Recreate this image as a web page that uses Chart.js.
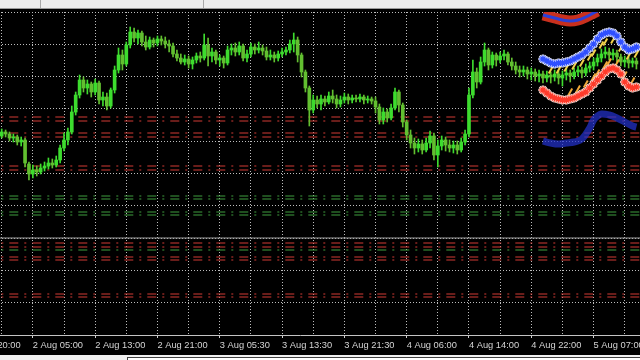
<!DOCTYPE html>
<html>
<head>
<meta charset="utf-8">
<script src="https://cdn.jsdelivr.net/npm/chart.js@4.4.1/dist/chart.umd.min.js"></script>
<style>
  html, body { margin: 0; padding: 0; width: 640px; height: 360px; overflow: hidden; background: #000; }
  body { position: relative; }
  #top { position: absolute; left: 0; top: 0; width: 640px; height: 8px; background: #ececec; border-bottom: 1px solid #9a9a9a; }
  #top .mark { position: absolute; top: 0; width: 1px; height: 8px; background: #a8a8a8; }
  #wrap { position: absolute; left: -40px; top: 10px; width: 680px; height: 345px; background: #000; }
  #bottom { position: absolute; left: 0; top: 355px; width: 640px; height: 5px; background: #f0f0f0; }
  #bottom .box { position: absolute; left: 127px; top: 2px; right: 0; height: 3px; background: #fff; border-top: 1px solid #404040; border-left: 1px solid #404040; }
</style>
</head>
<body>
<div id="top"><div class="mark" style="left:40px"></div><div class="mark" style="left:203px"></div></div>
<div id="wrap"><canvas id="chart" width="680" height="345"></canvas></div>
<div id="bottom"><div class="box"></div></div>
<script>
// time axis labels, one every 16 bars (M30)
var tickLabels = ['1 Aug 20:00', '2 Aug 05:00', '2 Aug 13:00', '2 Aug 21:00', '3 Aug 05:30', '3 Aug 13:30',
  '3 Aug 21:30', '4 Aug 06:00', '4 Aug 14:00', '4 Aug 22:00', '5 Aug 07:00'];

// candles
var opens = [
  1.3079,1.3083,1.3081,1.3077,1.3078,1.3073,1.3075,1.3051,1.3041,1.3045,
  1.3043,1.3047,1.3049,1.3052,1.3050,1.3055,1.3067,1.3075,1.3083,1.3103,
  1.3120,1.3135,1.3127,1.3131,1.3123,1.3132,1.3115,1.3118,1.3109,1.3125,
  1.3145,1.3160,1.3151,1.3170,1.3183,1.3177,1.3182,1.3173,1.3168,1.3175,
  1.3172,1.3176,1.3174,1.3171,1.3169,1.3161,1.3157,1.3153,1.3156,1.3151,
  1.3155,1.3159,1.3157,1.3170,1.3159,1.3163,1.3155,1.3157,1.3152,1.3165,
  1.3167,1.3163,1.3169,1.3157,1.3161,1.3168,1.3165,1.3167,1.3164,1.3158,
  1.3160,1.3157,1.3161,1.3163,1.3165,1.3171,1.3175,1.3160,1.3143,1.3127,
  1.3105,1.3115,1.3111,1.3116,1.3113,1.3119,1.3116,1.3111,1.3115,1.3118,
  1.3115,1.3117,1.3116,1.3118,1.3115,1.3116,1.3114,1.3108,1.3095,1.3103,
  1.3097,1.3107,1.3123,1.3110,1.3093,1.3080,1.3072,1.3067,1.3071,1.3065,
  1.3072,1.3079,1.3060,1.3069,1.3075,1.3070,1.3067,1.3070,1.3065,1.3073,
  1.3081,1.3120,1.3143,1.3133,1.3153,1.3165,1.3150,1.3160,1.3155,1.3159,
  1.3161,1.3153,1.3149,1.3145,1.3143,1.3145,1.3141,1.3143,1.3139,1.3141,
  1.3137,1.3140,1.3138,1.3141,1.3137,1.3140,1.3142,1.3139,1.3143,1.3145,
  1.3142,1.3147,1.3149,1.3153,1.3157,1.3161,1.3163,1.3160,1.3162,1.3158,
  1.3153,1.3155,1.3152,1.3154];
var highs = [
  1.3086,1.3085,1.3083,1.3081,1.3080,1.3078,1.3077,1.3053,1.3050,1.3049,
  1.3051,1.3053,1.3057,1.3056,1.3059,1.3070,1.3082,1.3087,1.3109,1.3123,
  1.3140,1.3138,1.3135,1.3133,1.3136,1.3134,1.3123,1.3122,1.3127,1.3149,
  1.3167,1.3165,1.3173,1.3188,1.3187,1.3185,1.3184,1.3179,1.3178,1.3177,
  1.3179,1.3179,1.3178,1.3175,1.3172,1.3165,1.3161,1.3160,1.3159,1.3158,
  1.3162,1.3163,1.3181,1.3177,1.3167,1.3165,1.3160,1.3159,1.3169,1.3171,
  1.3172,1.3173,1.3171,1.3165,1.3172,1.3171,1.3173,1.3170,1.3168,1.3165,
  1.3163,1.3164,1.3167,1.3168,1.3175,1.3182,1.3178,1.3162,1.3145,1.3129,
  1.3120,1.3119,1.3120,1.3119,1.3123,1.3125,1.3120,1.3119,1.3122,1.3121,
  1.3120,1.3120,1.3121,1.3120,1.3119,1.3118,1.3118,1.3111,1.3107,1.3106,
  1.3111,1.3127,1.3125,1.3112,1.3095,1.3085,1.3077,1.3076,1.3075,1.3077,
  1.3084,1.3082,1.3075,1.3079,1.3078,1.3075,1.3074,1.3074,1.3077,1.3085,
  1.3127,1.3155,1.3147,1.3158,1.3172,1.3167,1.3163,1.3162,1.3163,1.3165,
  1.3163,1.3157,1.3153,1.3149,1.3149,1.3148,1.3147,1.3146,1.3145,1.3144,
  1.3144,1.3143,1.3145,1.3144,1.3144,1.3146,1.3145,1.3147,1.3149,1.3148,
  1.3151,1.3153,1.3157,1.3161,1.3166,1.3168,1.3167,1.3166,1.3165,1.3161,
  1.3159,1.3158,1.3157,1.3157];
var lows = [
  1.3077,1.3078,1.3074,1.3073,1.3070,1.3069,1.3048,1.3035,1.3037,1.3039,
  1.3041,1.3044,1.3046,1.3047,1.3048,1.3052,1.3064,1.3070,1.3081,1.3100,
  1.3117,1.3123,1.3121,1.3118,1.3120,1.3111,1.3109,1.3105,1.3107,1.3122,
  1.3142,1.3145,1.3149,1.3167,1.3173,1.3171,1.3169,1.3165,1.3166,1.3168,
  1.3169,1.3170,1.3167,1.3163,1.3158,1.3154,1.3151,1.3150,1.3147,1.3146,
  1.3152,1.3153,1.3155,1.3149,1.3153,1.3151,1.3149,1.3147,1.3150,1.3160,
  1.3159,1.3160,1.3154,1.3153,1.3158,1.3161,1.3162,1.3160,1.3155,1.3155,
  1.3153,1.3154,1.3158,1.3160,1.3162,1.3163,1.3153,1.3138,1.3123,1.3089,
  1.3102,1.3107,1.3105,1.3109,1.3111,1.3112,1.3107,1.3108,1.3112,1.3111,
  1.3112,1.3113,1.3113,1.3111,1.3112,1.3111,1.3102,1.3091,1.3091,1.3093,
  1.3095,1.3105,1.3103,1.3088,1.3075,1.3067,1.3061,1.3063,1.3061,1.3063,
  1.3067,1.3055,1.3048,1.3065,1.3064,1.3063,1.3062,1.3061,1.3063,1.3070,
  1.3078,1.3117,1.3127,1.3131,1.3149,1.3145,1.3147,1.3149,1.3152,1.3155,
  1.3150,1.3145,1.3141,1.3138,1.3139,1.3136,1.3135,1.3134,1.3133,1.3132,
  1.3133,1.3132,1.3134,1.3131,1.3129,1.3135,1.3133,1.3136,1.3139,1.3137,
  1.3139,1.3143,1.3145,1.3149,1.3153,1.3157,1.3155,1.3155,1.3153,1.3149,
  1.3148,1.3147,1.3148,1.3146];
var closes = [
  1.3083,1.3081,1.3077,1.3078,1.3073,1.3075,1.3052,1.3041,1.3045,1.3043,
  1.3047,1.3049,1.3052,1.3050,1.3055,1.3067,1.3075,1.3083,1.3103,1.3120,
  1.3135,1.3127,1.3131,1.3123,1.3132,1.3115,1.3118,1.3109,1.3125,1.3145,
  1.3160,1.3151,1.3170,1.3183,1.3177,1.3182,1.3173,1.3168,1.3175,1.3172,
  1.3176,1.3174,1.3171,1.3169,1.3161,1.3157,1.3153,1.3156,1.3151,1.3155,
  1.3159,1.3157,1.3170,1.3159,1.3163,1.3155,1.3157,1.3152,1.3165,1.3167,
  1.3163,1.3169,1.3157,1.3161,1.3168,1.3165,1.3167,1.3164,1.3158,1.3160,
  1.3157,1.3161,1.3163,1.3165,1.3171,1.3175,1.3160,1.3143,1.3127,1.3105,
  1.3115,1.3111,1.3116,1.3113,1.3119,1.3116,1.3111,1.3115,1.3118,1.3115,
  1.3117,1.3116,1.3118,1.3115,1.3116,1.3114,1.3108,1.3095,1.3103,1.3097,
  1.3107,1.3123,1.3110,1.3093,1.3080,1.3072,1.3067,1.3071,1.3065,1.3072,
  1.3079,1.3060,1.3069,1.3075,1.3070,1.3067,1.3070,1.3065,1.3073,1.3081,
  1.3120,1.3143,1.3133,1.3153,1.3165,1.3150,1.3160,1.3155,1.3159,1.3161,
  1.3153,1.3149,1.3145,1.3143,1.3145,1.3141,1.3143,1.3139,1.3141,1.3137,
  1.3140,1.3138,1.3141,1.3137,1.3140,1.3142,1.3139,1.3143,1.3145,1.3142,
  1.3147,1.3149,1.3153,1.3157,1.3161,1.3163,1.3160,1.3162,1.3158,1.3153,
  1.3155,1.3152,1.3154,1.3151];

// indicator bands on the last bars (start at bar 139)
var bandStart = 139;
var upperStars = [1.3156,1.3154,1.3152,1.3151,1.3152,1.3152,1.3153,1.3154,1.3156,1.3158,1.3160,1.3163,1.3167,
  1.3171,1.3176,1.3180,1.3182,1.3183,1.3182,1.3179,1.3173,1.3168,1.3165,1.3166,1.3168];
var lowerStars = [1.3125,1.3122,1.3119,1.3117,1.3116,1.3115,1.3115,1.3116,1.3117,1.3119,1.3121,1.3123,1.3127,
  1.3131,1.3135,1.3139,1.3143,1.3146,1.3147,1.3145,1.3141,1.3133,1.3129,1.3127,1.3128];
var yellowBars = [141,143,145,147,149,151,152,154,155,157,159,161,163];
var yellowVals = [1.3145,1.3145,1.3147,1.3149,1.3152,1.3158,1.3162,1.3170,1.3173,1.3175,1.3167,1.3159,1.3161];
var orangeBars = [146,148,150,152,153,155,156,158,160,162];
var orangeVals = [1.3123,1.3126,1.3131,1.3138,1.3142,1.3150,1.3153,1.3152,1.3140,1.3134];
var topBandBars = [139,140,142,144,146,148,150,152,153];
var topBandVals = [1.3200,1.3199,1.3197,1.3195,1.3194,1.3195,1.3198,1.3202,1.3204];
var lowBandBars = [139,141,143,145,147,149,151,152,153,154,156,158,160,162,163];
var lowBandVals = [1.3074,1.3072,1.3071,1.3072,1.3073,1.3076,1.3087,1.3095,1.3099,1.3101,1.3100,1.3097,1.3093,1.3089,1.3088];

// horizontal price levels
var levelPrices = [1.3098,1.3094,1.3082,1.3078,1.3049,1.3045,1.3019,1.3016,1.3003,1.3000,
  1.2977,1.2972,1.2968,1.2965,1.2958,1.2955,1.2921,1.2918];
var levelKinds = ['r','r','r','r','r','r','g','g','g','g','s','r','r','g','r','r','r','r'];

var X_MIN = -10.709, X_MAX = 163.92;
var Y_MIN = 1.2880, Y_MAX = 1.3203;
var levelStyle = {
  r: {color: '#d23a34', dash: [9, 6, 2, 6]},
  g: {color: '#3f9e3f', dash: [9, 6, 2, 6]},
  s: {color: '#a0a0a0', dash: []}
};

function labelFor(v) {
  var k = (v + 8) / 16;
  return (Number.isInteger(k) && tickLabels[k]) ? tickLabels[k] : '';
}
function pairs(bars, vals) {
  return bars.map(function(b, i) { return {x: b, y: vals[i]}; });
}
function band(vals) {
  return vals.map(function(v, i) { return {x: bandStart + i, y: v}; });
}
function stars(vals, color, halo, order) {
  return [{
    type: 'line', data: band(vals), showLine: false, pointStyle: 'star',
    pointRadius: 4.6, pointBorderWidth: 2.6, pointBorderColor: halo, pointBackgroundColor: halo, order: order + 1
  }, {
    type: 'line', data: band(vals), showLine: false, pointStyle: 'star',
    pointRadius: 3.6, pointBorderWidth: 1.4, pointBorderColor: color, pointBackgroundColor: color, order: order
  }];
}

var idx = opens.map(function(_, i) { return i; });
var colors = idx.map(function(i) { return closes[i] >= opens[i] ? '#3ddc2e' : '#62bf30'; });

var datasets = [];
levelPrices.forEach(function(p, i) {
  var st = levelStyle[levelKinds[i]];
  datasets.push({
    type: 'line', data: [{x: X_MIN, y: p}, {x: X_MAX, y: p}],
    borderColor: st.color, borderWidth: 1, borderDash: st.dash, borderDashOffset: 19.7,
    pointRadius: 0, order: 20
  });
});
datasets.push({
  type: 'bar', data: idx.map(function(i) { return {x: i, y: [lows[i], highs[i]]}; }),
  backgroundColor: colors, barThickness: 1, grouped: false, order: 11
});
datasets.push({
  type: 'bar', data: idx.map(function(i) { return {x: i, y: [opens[i], closes[i]]}; }),
  backgroundColor: colors, barThickness: 3, grouped: false, minBarLength: 1, order: 10
});
datasets.push({
  type: 'line', data: pairs(lowBandBars, lowBandVals), borderColor: 'rgba(35,50,205,0.72)',
  borderWidth: 7, tension: 0.4, pointRadius: 0, order: 9
});
datasets.push({
  type: 'line', data: pairs(topBandBars, topBandVals), borderColor: '#c8301e',
  borderWidth: 11, tension: 0.4, pointRadius: 0, order: 9
});
datasets.push({
  type: 'line', data: pairs(topBandBars, topBandVals), borderColor: '#2a40d8',
  borderWidth: 3, tension: 0.4, pointRadius: 0, order: 8
});
datasets.push({
  type: 'line', data: pairs(yellowBars, yellowVals), showLine: false, pointStyle: 'line', rotation: -60,
  pointRadius: 4, pointBorderWidth: 2, pointBorderColor: '#f2d24a', order: 4
});
datasets.push({
  type: 'line', data: pairs(orangeBars, orangeVals), showLine: false, pointStyle: 'line', rotation: -60,
  pointRadius: 4, pointBorderWidth: 2, pointBorderColor: '#f2a83a', order: 4
});
datasets = datasets.concat(stars(upperStars, '#2f4fff', '#dfe4ff', 2));
datasets = datasets.concat(stars(lowerStars, '#ff3a2a', '#ffd6cc', 2));

Chart.defaults.font.family = 'Liberation Sans';

new Chart(document.getElementById('chart'), {
  type: 'bar',
  data: {datasets: datasets},
  options: {
    responsive: false,
    animation: false,
    events: [],
    layout: {autoPadding: false, padding: {top: 2, left: 0, right: 0, bottom: 0}},
    plugins: {legend: {display: false}, tooltip: {enabled: false}},
    scales: {
      x: {
        type: 'linear', min: X_MIN, max: X_MAX, offset: false,
        afterBuildTicks: function(scale) {
          var t = [];
          for (var v = -8; v <= 160; v += 8) t.push({value: v});
          scale.ticks = t;
        },
        afterFit: function(scale) { scale.height = 20; },
        grid: {
          offset: false, color: '#bdbdbd', lineWidth: 1, drawTicks: true, tickLength: 3, tickWidth: 1,
          tickColor: function(ctx) { return ctx.tick && labelFor(ctx.tick.value) ? '#d0d0d0' : 'rgba(0,0,0,0)'; }
        },
        border: {display: true, color: '#c4c4c4', width: 1, dash: [1, 2]},
        ticks: {
          autoSkip: false, maxRotation: 0, minRotation: 0, align: 'start', padding: 2,
          color: '#d4d4d4', font: {size: 9.3},
          callback: function(v) { return labelFor(v); }
        }
      },
      y: {
        min: Y_MIN, max: Y_MAX,
        afterBuildTicks: function(scale) {
          var t = [];
          for (var k = 0; k <= 10; k++) t.push({value: Y_MIN + k * (Y_MAX - Y_MIN) / 10});
          scale.ticks = t;
        },
        afterFit: function(scale) { scale.width = 0; },
        ticks: {display: false},
        grid: {color: '#bdbdbd', lineWidth: 1, drawTicks: false},
        border: {display: false, dash: [1, 2]}
      }
    }
  }
});
</script>
</body>
</html>
